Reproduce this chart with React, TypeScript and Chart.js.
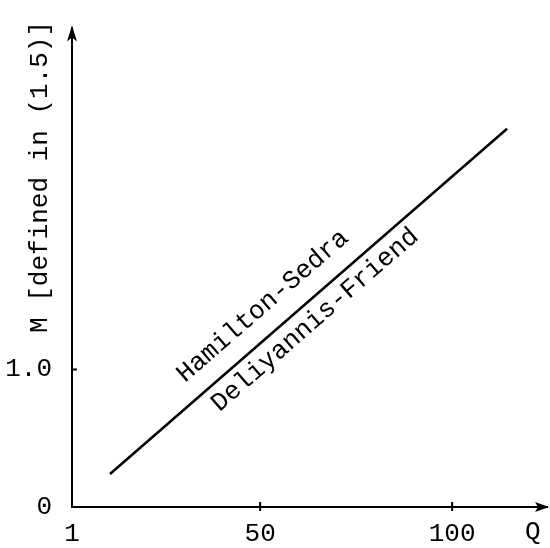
import React, { useEffect, useRef } from "react";
import { Chart, registerables } from "chart.js";

Chart.register(...registerables);

// Data
const lineQ = [10.9, 114.3];
const lineM = [0.24, 2.75];
const xTickValues = [1, 50, 100];
const yTickValues = [0, 1];
const yTickLabels = ["0", "1.0"];
const xAxisName = "Q";
const yAxisName = "M [defined in (1.5)]";
const curveLabels = ["Hamilton-Sedra", "Deliyannis-Friend"];

const FONT = "'Liberation Mono', 'DejaVu Sans Mono', monospace";
const FS = 26;

const decorPlugin = {
  id: "decor",
  afterDraw(chart: any) {
    const { ctx, chartArea, scales } = chart;
    const xs = scales.x;
    const ys = scales.y;
    const left = chartArea.left;
    const bottom = chartArea.bottom;
    const right = chartArea.right;
    const top = chartArea.top;
    ctx.save();
    ctx.fillStyle = "#000";
    ctx.strokeStyle = "#000";
    ctx.lineWidth = 2;
    // arrow right
    ctx.beginPath();
    ctx.moveTo(right + 2, bottom);
    ctx.lineTo(right - 12, bottom - 5);
    ctx.lineTo(right - 9, bottom);
    ctx.lineTo(right - 12, bottom + 5);
    ctx.closePath();
    ctx.fill();
    // arrow up
    ctx.beginPath();
    ctx.moveTo(left, top - 2);
    ctx.lineTo(left - 5, top + 14);
    ctx.lineTo(left, top + 10);
    ctx.lineTo(left + 5, top + 14);
    ctx.closePath();
    ctx.fill();
    // tick marks
    xTickValues.forEach((v) => {
      if (v === 1) return;
      const px = xs.getPixelForValue(v);
      ctx.beginPath();
      ctx.moveTo(px, bottom - 5);
      ctx.lineTo(px, bottom + 4);
      ctx.stroke();
    });
    yTickValues.forEach((v) => {
      if (v === 0) return;
      const py = ys.getPixelForValue(v);
      ctx.beginPath();
      ctx.moveTo(left, py);
      ctx.lineTo(left + 5, py);
      ctx.stroke();
    });
    // axis names
    ctx.font = `${FS}px ${FONT}`;
    ctx.textAlign = "center";
    ctx.textBaseline = "middle";
    ctx.fillText(xAxisName, xs.getPixelForValue(121), bottom + 25);
    ctx.save();
    ctx.translate(40, ys.getPixelForValue(2.4));
    ctx.rotate(-Math.PI / 2);
    ctx.fillText(yAxisName, 0, 0);
    ctx.restore();
    // curve labels
    const x0 = xs.getPixelForValue(lineQ[0]);
    const y0 = ys.getPixelForValue(lineM[0]);
    const x1 = xs.getPixelForValue(lineQ[1]);
    const y1 = ys.getPixelForValue(lineM[1]);
    const ang = Math.atan2(y1 - y0, x1 - x0);
    const anchors = [
      [50.7, 1.46],
      [64.3, 1.36],
    ];
    curveLabels.forEach((t, i) => {
      ctx.save();
      ctx.translate(xs.getPixelForValue(anchors[i][0]), ys.getPixelForValue(anchors[i][1]));
      ctx.rotate(ang);
      ctx.fillText(t, 0, 0);
      ctx.restore();
    });
    ctx.restore();
  },
};

export default function App() {
  const ref = useRef<HTMLCanvasElement>(null);
  useEffect(() => {
    if (!ref.current) return;
    const chart = new Chart(ref.current, {
      type: "line",
      data: {
        datasets: [
          {
            data: lineQ.map((q, i) => ({ x: q, y: lineM[i] })),
            borderColor: "#000",
            borderWidth: 2.5,
            pointRadius: 0,
            fill: false,
          },
        ],
      },
      options: {
        responsive: false,
        animation: false,
        events: [],
        layout: { padding: { top: 12, right: 3, left: 0, bottom: 0 } },
        plugins: { legend: { display: false }, tooltip: { enabled: false } },
        scales: {
          x: {
            type: "linear",
            min: 1,
            max: 124.7,
            grid: { display: false },
            border: { display: true, color: "#000", width: 2 },
            afterBuildTicks: (s: any) => {
              s.ticks = xTickValues.map((v) => ({ value: v }));
            },
            afterFit: (s: any) => {
              s.height = 41;
            },
            ticks: {
              color: "#000",
              font: { family: FONT, size: FS },
              padding: 4,
              maxRotation: 0,
              autoSkip: false,
              callback: (v: any) => String(v),
            },
          },
          y: {
            type: "linear",
            min: 0,
            max: 3.486,
            grid: { display: false },
            border: { display: true, color: "#000", width: 2 },
            afterBuildTicks: (s: any) => {
              s.ticks = yTickValues.map((v) => ({ value: v }));
            },
            afterFit: (s: any) => {
              s.width = 72;
            },
            ticks: {
              color: "#000",
              font: { family: FONT, size: FS },
              padding: 12,
              autoSkip: false,
              callback: (v: any) => yTickLabels[yTickValues.indexOf(v)] ?? "",
            },
          },
        },
      },
      plugins: [decorPlugin],
    } as any);
    return () => chart.destroy();
  }, []);
  return (
    <div style={{ position: "fixed", left: 0, top: 0, width: 550, height: 548, background: "#fff" }}>
      <canvas ref={ref} width={550} height={548} />
    </div>
  );
}
